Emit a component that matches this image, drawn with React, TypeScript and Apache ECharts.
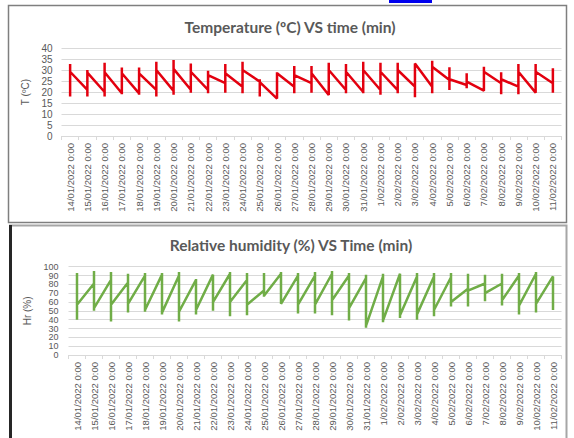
import React, { useEffect, useRef } from "react";
import * as echarts from "echarts";

const dates = [
  "14/01/2022 0:00", "15/01/2022 0:00", "16/01/2022 0:00", "17/01/2022 0:00", "18/01/2022 0:00",
  "19/01/2022 0:00", "20/01/2022 0:00", "21/01/2022 0:00", "22/01/2022 0:00", "23/01/2022 0:00",
  "24/01/2022 0:00", "25/01/2022 0:00", "26/01/2022 0:00", "27/01/2022 0:00", "28/01/2022 0:00",
  "29/01/2022 0:00", "30/01/2022 0:00", "31/01/2022 0:00", "1/02/2022 0:00", "2/02/2022 0:00",
  "3/02/2022 0:00", "4/02/2022 0:00", "5/02/2022 0:00", "6/02/2022 0:00", "7/02/2022 0:00",
  "8/02/2022 0:00", "9/02/2022 0:00", "10/02/2022 0:00", "11/02/2022 0:00",
];

// Temperature (ºC): daily min, daily max, value leaving the day, value reaching next day
const tempLow = [18, 18, 18, 19, 18.8, 18, 18.8, 19.7, 19.4, 19.7, 19.4, 17.9, 16.7, 19.4, 19.7, 19, 19.4, 19.4, 18.8, 19.4, 17.6, 19.4, 20.9, 21.7, 20.5, 19, 19, 19.4, 19.7];
const tempHigh = [32.7, 30, 33.3, 31.1, 31.1, 33.8, 34.5, 33, 29.7, 32.7, 33.8, 25.8, 29, 31.8, 31.8, 33.3, 32.7, 33.8, 33.3, 33.3, 33, 34.2, 31.2, 28.5, 31.5, 29, 32.7, 32.7, 30.8];
const tempStart = [29.2, 28.8, 29, 28.5, 28.5, 30, 30.5, 29.2, 27.7, 28.5, 30, 24.5, 28.5, 27.7, 28.5, 30, 29.2, 30, 29.2, 30, 32.7, 31.5, 25.8, 24.7, 29.2, 25.8, 29.2, 29.2];
const tempEnd = [21, 20, 19.4, 19.4, 21, 20.5, 21, 21, 24, 22.4, 24.7, 17, 22.4, 24, 18.6, 20.9, 20, 20.9, 20.9, 22.4, 22.4, 25.5, 23.2, 20.6, 24, 22.4, 19.7, 24];

// Relative humidity (%)
const humLow = [40, 50, 38, 48, 49, 46, 38, 46, 50, 44, 45, 66, 58, 47, 47, 45, 39, 31, 37, 42, 40, 44, 55, 55, 61, 56, 46, 48, 51];
const humHigh = [93, 95, 94, 92, 93, 93, 94, 86, 91, 94, 93, 93, 94, 93, 94, 95, 93, 91, 92, 92, 93, 93, 93, 92, 91, 92, 93, 94, 88];
const humStart = [57, 53, 57, 58, 51, 48, 49, 51, 60, 60, 57, 67, 58, 57, 57, 62, 53, 33, 39, 45, 46, 51, 60, 73, 70, 62, 56, 58];
const humEnd = [81, 85, 82, 90, 91, 90, 85, 91, 92, 85, 73, 92, 90, 90, 92, 90, 87, 89, 92, 89, 89, 88, 75, 81, 81, 90, 92, 89];

const tempTicks = [0, 5, 10, 15, 20, 25, 30, 35, 40];
const humTicks = [0, 10, 20, 30, 40, 50, 60, 70, 80, 90, 100];

function buildPath(low: number[], high: number[], start: number[], end: number[]) {
  const pts: number[][] = [];
  for (let i = 0; i < low.length; i++) {
    if (i > 0) pts.push([i, end[i - 1]]);
    pts.push([i, low[i]]);
    pts.push([i, high[i]]);
    if (i < start.length) pts.push([i, start[i]]);
  }
  return pts;
}

const GRAY = "#595959";
const GRID = "#d9d9d9";

export default function App() {
  const ref = useRef<HTMLDivElement>(null);
  useEffect(() => {
    if (!ref.current) return;
    const chart = echarts.init(ref.current, null, { renderer: "svg" });
    const catAxis = (gridIndex: number) => ({
      type: "category",
      gridIndex,
      data: dates,
      boundaryGap: true,
      axisLine: { show: true, lineStyle: { color: GRID, width: 1 } },
      axisTick: { show: true, length: 4, lineStyle: { color: GRID } },
      axisLabel: {
        interval: 0,
        rotate: 90,
        color: GRAY,
        fontSize: 9.5,
        fontFamily: "Liberation Sans",
        margin: 7,
      },
    });
    const valX = (gridIndex: number) => ({
      type: "value",
      gridIndex,
      min: -0.5,
      max: dates.length - 0.5,
      show: false,
    });
    chart.setOption({
      animation: false,
      textStyle: { fontFamily: "Liberation Sans" },
      grid: [
        { left: 61.5, width: 500, top: 48, height: 88 },
        { left: 68.5, width: 493, top: 266.7, height: 88.3 },
      ],
      xAxis: [catAxis(0), valX(0), catAxis(1), valX(1)],
      yAxis: [
        {
          type: "value",
          gridIndex: 0,
          min: tempTicks[0],
          max: tempTicks[tempTicks.length - 1],
          interval: 5,
          name: "T (ºC)",
          nameLocation: "middle",
          nameGap: 27,
          nameTextStyle: { color: GRAY, fontSize: 10 },
          axisLine: { show: false },
          axisTick: { show: false },
          axisLabel: { color: GRAY, fontSize: 10, margin: 9, showMinLabel: true, showMaxLabel: true },
          splitLine: { lineStyle: { color: GRID } },
        },
        {
          type: "value",
          gridIndex: 1,
          min: humTicks[0],
          max: humTicks[humTicks.length - 1],
          interval: 10,
          name: "Hr (%)",
          nameLocation: "middle",
          nameGap: 33,
          nameTextStyle: { color: GRAY, fontSize: 10 },
          axisLine: { show: false },
          axisTick: { show: false },
          axisLabel: {
            color: GRAY,
            fontSize: 9,
            margin: 10,
            lineHeight: 8,
            showMinLabel: true,
            showMaxLabel: true,
            hideOverlap: false,
          },
          splitLine: { lineStyle: { color: GRID } },
        },
      ],
      series: [
        {
          type: "line",
          name: "Temperature",
          xAxisIndex: 1,
          yAxisIndex: 0,
          data: buildPath(tempLow, tempHigh, tempStart, tempEnd),
          showSymbol: false,
          lineStyle: { color: "#e3000f", width: 2.5 },
          itemStyle: { color: "#e3000f" },
        },
        {
          type: "line",
          name: "Relative humidity",
          xAxisIndex: 3,
          yAxisIndex: 1,
          data: buildPath(humLow, humHigh, humStart, humEnd),
          showSymbol: false,
          lineStyle: { color: "#70ad47", width: 2.5 },
          itemStyle: { color: "#70ad47" },
        },
      ],
      graphic: [
        {
          type: "rect",
          shape: { x: 389, y: -2, width: 43, height: 5 },
          style: { fill: "#0000ee" },
          silent: true,
        },
        {
          type: "rect",
          shape: { x: 8.5, y: 5.5, width: 558, height: 217 },
          style: { fill: "none", stroke: "#7f7f7f", lineWidth: 1.5 },
          silent: true,
        },
        {
          type: "rect",
          shape: { x: 10, y: 225.5, width: 556.5, height: 220 },
          style: { fill: "none", stroke: "#a6a6a6", lineWidth: 2 },
          silent: true,
        },
        {
          type: "line",
          shape: { x1: 10.5, y1: 225, x2: 10.5, y2: 440 },
          style: { stroke: "#262626", lineWidth: 3 },
          silent: true,
        },
        {
          type: "text",
          x: 290,
          y: 27,
          style: {
            text: "Temperature (ºC) VS time (min)",
            fill: GRAY,
            fontSize: 15.5,
            fontWeight: "bold",
            fontFamily: "Lato",
            textAlign: "center",
            textVerticalAlign: "middle",
          },
        },
        {
          type: "text",
          x: 291,
          y: 245,
          style: {
            text: "Relative humidity (%) VS Time (min)",
            fill: GRAY,
            fontSize: 15.5,
            fontWeight: "bold",
            fontFamily: "Lato",
            textAlign: "center",
            textVerticalAlign: "middle",
          },
        },
      ],
    });
    return () => chart.dispose();
  }, []);
  return (
    <div
      ref={ref}
      style={{ position: "absolute", left: 0, top: 0, width: 574, height: 438, background: "#fff" }}
    />
  );
}
